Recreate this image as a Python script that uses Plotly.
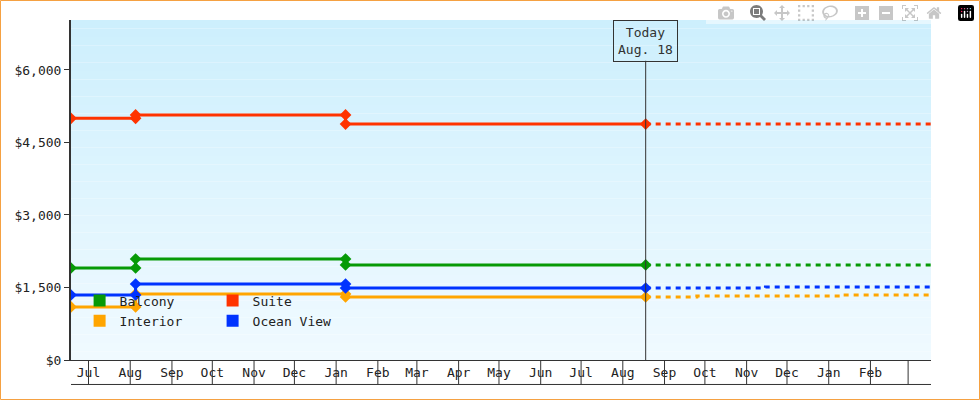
import plotly.graph_objects as go
import pandas as pd

series = ["Balcony", "Suite", "Interior", "Ocean View"]
colors = {"Balcony": "#069a06", "Suite": "#ff3300", "Interior": "#ffa500", "Ocean View": "#0033ff"}
legend_of = {"Balcony": "legend", "Suite": "legend", "Interior": "legend2", "Ocean View": "legend2"}

hist_dates = ["2023-06-18", "2023-08-05", "2023-08-05", "2024-01-08", "2024-01-08", "2024-08-18"]
hist_vals = {
    "Balcony":    [1903, 1903, 2090, 2090, 1966, 1966],
    "Suite":      [5000, 5000, 5070, 5070, 4880, 4880],
    "Interior":   [1097, 1097, 1366, 1366, 1303, 1303],
    "Ocean View": [1345, 1345, 1572, 1572, 1490, 1490],
}
fut_dates = {
    "Balcony": ["2024-08-18", "2025-03-18"],
    "Suite": ["2024-08-18", "2025-03-18"],
    "Interior": ["2024-08-18", "2024-09-25", "2025-01-10", "2025-03-18"],
    "Ocean View": ["2024-08-18", "2024-11-15", "2025-03-18"],
}
fut_vals = {
    "Balcony": [1966, 1966],
    "Suite": [4880, 4880],
    "Interior": [1303, 1324, 1345, 1345],
    "Ocean View": [1490, 1510, 1510],
}
y_ticks = [0, 1500, 3000, 4500, 6000]
y_labels = ["$0", "$1,500", "$3,000", "$4,500", "$6,000"]
today = "2024-08-18"
x_start, x_end = "2023-06-18", "2025-03-18"
month_starts = pd.date_range("2023-07-01", "2025-03-01", freq="MS")
label_months = month_starts[:-1]
month_labels = [d.strftime("%b") for d in label_months]

font = "DejaVu Sans Mono"
fig = go.Figure()

n = 40
top, bot = (205, 239, 253), (240, 250, 255)
for i in range(n):
    t = i / (n - 1)
    c = tuple(round(top[k] + (bot[k] - top[k]) * t) for k in range(3))
    fig.add_shape(type="rect", xref="paper", yref="paper", x0=0, x1=1,
                  y0=1 - (i + 1) / n, y1=1 - i / n, fillcolor="rgb(%d,%d,%d)" % c,
                  line_width=0, layer="below")

for s in series:
    fig.add_trace(go.Scatter(x=hist_dates, y=hist_vals[s], mode="lines+markers",
                             line=dict(color=colors[s], width=3),
                             marker=dict(symbol="diamond", size=9, color=colors[s]),
                             showlegend=False, hoverinfo="skip"))
    fig.add_trace(go.Scatter(x=fut_dates[s], y=fut_vals[s], mode="lines", line_shape="hv",
                             line=dict(color=colors[s], width=3, dash="5px,5px"),
                             showlegend=False, hoverinfo="skip"))
for s in series:
    fig.add_trace(go.Scatter(x=[None], y=[None], mode="markers", name=s,
                             marker=dict(symbol="square", size=12, color=colors[s]),
                             legend=legend_of[s]))

fig.add_shape(type="line", x0=today, x1=today, yref="paper", y0=0, y1=0.88,
              line=dict(color="#333", width=1))
fig.add_annotation(x=today, yref="paper", y=1, yanchor="top", text="Today<br>Aug. 18",
                   showarrow=False, bordercolor="#333", borderwidth=1, borderpad=4,
                   bgcolor="rgba(0,0,0,0)", font=dict(family=font, size=13, color="#333"))

for d in month_starts:
    fig.add_shape(type="line", x0=d, x1=d, yref="paper", y0=0, y1=-0.072,
                  line=dict(color="#333", width=1))
fig.add_shape(type="line", xref="paper", x0=0, x1=1, yref="paper", y0=-0.072, y1=-0.072,
              line=dict(color="#333", width=1))
fig.add_shape(type="rect", xref="paper", yref="paper", x0=-70.5/860, x1=1+48.5/860,
              y0=-39.5/340, y1=1+19.5/340, line=dict(color="#f5a142", width=1))

fig.update_layout(
    width=980, height=400, margin=dict(l=71, r=49, t=20, b=40),
    paper_bgcolor="white", plot_bgcolor="rgba(0,0,0,0)",
    font=dict(family=font, size=13, color="#222"),
    xaxis=dict(type="date", range=[x_start, x_end], ticklabelmode="period",
               tickvals=label_months, ticktext=month_labels, ticks="", showgrid=False,
               showline=True, linecolor="#333", zeroline=False),
    yaxis=dict(range=[0, 7034], tickvals=y_ticks, ticktext=y_labels, ticks="outside",
               ticklen=5, tickcolor="#333", showgrid=False, showline=True,
               linecolor="#333", linewidth=2, zeroline=False),
    legend=dict(orientation="h", x=0.01, y=0.175, xanchor="left", yanchor="middle",
                bgcolor="rgba(0,0,0,0)", entrywidth=88, itemwidth=30,
                font=dict(family=font, size=13)),
    legend2=dict(orientation="h", x=0.01, y=0.115, xanchor="left", yanchor="middle",
                 bgcolor="rgba(0,0,0,0)", entrywidth=88, itemwidth=30,
                 font=dict(family=font, size=13)),
)
fig.write_html("out.html")
with open("out.html", encoding="utf-8") as f:
    html = f.read()
html = html.replace("<head>", "<head><style>body{margin:0;}</style>", 1)
with open("out.html", "w", encoding="utf-8") as f:
    f.write(html)
